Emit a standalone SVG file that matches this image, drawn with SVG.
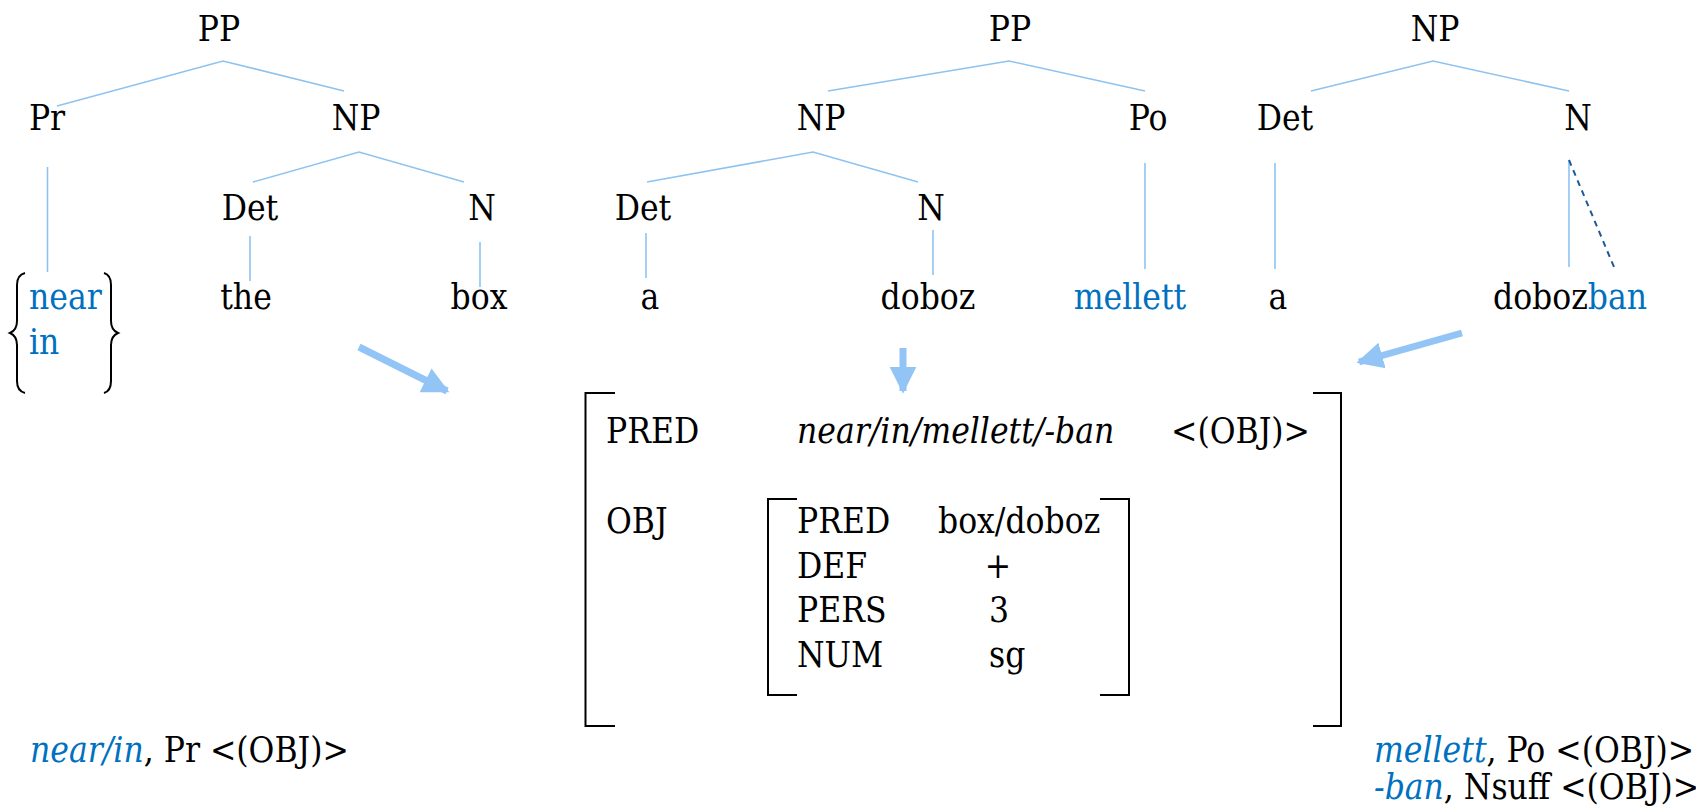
<svg xmlns="http://www.w3.org/2000/svg" width="1696" height="809" viewBox="0 0 1696 809">
<style>
text{font-family:"DejaVu Serif Condensed","DejaVu Serif",serif;font-stretch:condensed;font-size:35px;fill:#000}
.m{text-anchor:middle}
.b{fill:#0070C0}
.i{font-style:italic}
.tl{stroke:#8EC3F0;stroke-width:1.6;fill:none}
.dash{stroke:#1F5A96;stroke-width:2;stroke-dasharray:6 5;fill:none}
.br{stroke:#000;stroke-width:2;fill:none}
.arr{stroke:#92C5F5;stroke-width:7;fill:none;marker-end:url(#ah)}
</style>
<defs>
<marker id="ah" viewBox="0 0 10 10" refX="9" refY="5" markerWidth="3.8" markerHeight="4" markerUnits="strokeWidth" orient="auto">
<path d="M0 0 L10 5 L0 10 Z" fill="#92C5F5"/>
</marker>
</defs>
<rect width="1696" height="809" fill="#fff"/>

<g id="connectors">
<polyline class="tl" points="57,106 223,61 344,91"/>
<polyline class="tl" points="253,182 359,152 464,182"/>
<line class="tl" x1="47.5" y1="167" x2="47.5" y2="272"/>
<line class="tl" x1="250" y1="236" x2="250" y2="281"/>
<line class="tl" x1="480" y1="242" x2="480" y2="287"/>
<polyline class="tl" points="828,91 1009,61 1145,91"/>
<polyline class="tl" points="647,182 813,152 918,182"/>
<line class="tl" x1="646" y1="233" x2="646" y2="278"/>
<line class="tl" x1="933" y1="230" x2="933" y2="275"/>
<line class="tl" x1="1145" y1="163" x2="1145" y2="269"/>
<polyline class="tl" points="1311,91 1433,61 1569,91"/>
<line class="tl" x1="1275" y1="163" x2="1275" y2="269"/>
<line class="tl" x1="1569" y1="160" x2="1569" y2="267"/>
<line class="dash" x1="1569" y1="160" x2="1614" y2="267"/>
<line class="arr" x1="359" y1="347" x2="447" y2="391"/>
<line class="arr" x1="903" y1="348" x2="903" y2="391"/>
<line class="arr" x1="1462" y1="333" x2="1359" y2="362"/>
</g>

<g id="tree1">
<text class="m" x="219" y="41">PP</text>
<text class="m" x="47" y="130">Pr</text>
<text class="m" x="356" y="130">NP</text>
<text class="m" x="250" y="220">Det</text>
<text class="m" x="482" y="220">N</text>
<text class="m" x="246" y="309">the</text>
<text class="m" x="479" y="309">box</text>
<g id="brace">
<path class="br" d="M25 273 Q17 275 17 285 L17 321 Q17 330 10 333 Q17 336 17 345 L17 381 Q17 391 25 393"/>
<path class="br" d="M104 273 Q111 275 111 285 L111 321 Q111 330 118 333 Q111 336 111 345 L111 381 Q111 391 104 393"/>
<text class="b" x="29" y="309">near</text>
<text class="b" x="29" y="354">in</text>
</g>
</g>

<g id="tree2">
<text class="m" x="1010" y="41">PP</text>
<text class="m" x="821" y="130">NP</text>
<text class="m" x="1148" y="130">Po</text>
<text class="m" x="643" y="220">Det</text>
<text class="m" x="931" y="220">N</text>
<text class="m" x="650" y="309">a</text>
<text class="m" x="928" y="309">doboz</text>
<text class="m b" x="1130" y="309">mellett</text>
</g>

<g id="tree3">
<text class="m" x="1435" y="41">NP</text>
<text class="m" x="1285" y="130">Det</text>
<text class="m" x="1578" y="130">N</text>
<text class="m" x="1278" y="309">a</text>
<text class="m" x="1570" y="309">doboz<tspan class="b">ban</tspan></text>
</g>

<g id="fstructure">
<path class="br" d="M615 393 H585.5 V726 H615"/>
<path class="br" d="M1313 393 H1341 V726 H1313"/>
<text x="606" y="443">PRED</text>
<text class="i" x="797" y="443">near/in/mellett/-ban</text>
<text x="1171" y="443">&lt;(OBJ)&gt;</text>
<text x="606" y="533">OBJ</text>
<g id="obj">
<path class="br" d="M797 499 H768 V695 H797"/>
<path class="br" d="M1100 499 H1129 V695 H1100"/>
<text x="797" y="533">PRED</text>
<text x="938" y="533">box/doboz</text>
<text x="797" y="578">DEF</text>
<text class="m" x="998" y="578">+</text>
<text x="797" y="622">PERS</text>
<text x="989" y="622">3</text>
<text x="797" y="667">NUM</text>
<text x="989" y="667">sg</text>
</g>
</g>

<g id="lex-left">
<text x="30" y="762"><tspan class="b i">near/in</tspan>, Pr &lt;(OBJ)&gt;</text>
</g>
<g id="lex-right">
<text x="1374" y="762"><tspan class="b i">mellett</tspan>, Po &lt;(OBJ)&gt;</text>
<text x="1374" y="799"><tspan class="b i">-ban</tspan>, Nsuff &lt;(OBJ)&gt;</text>
</g>
</svg>
